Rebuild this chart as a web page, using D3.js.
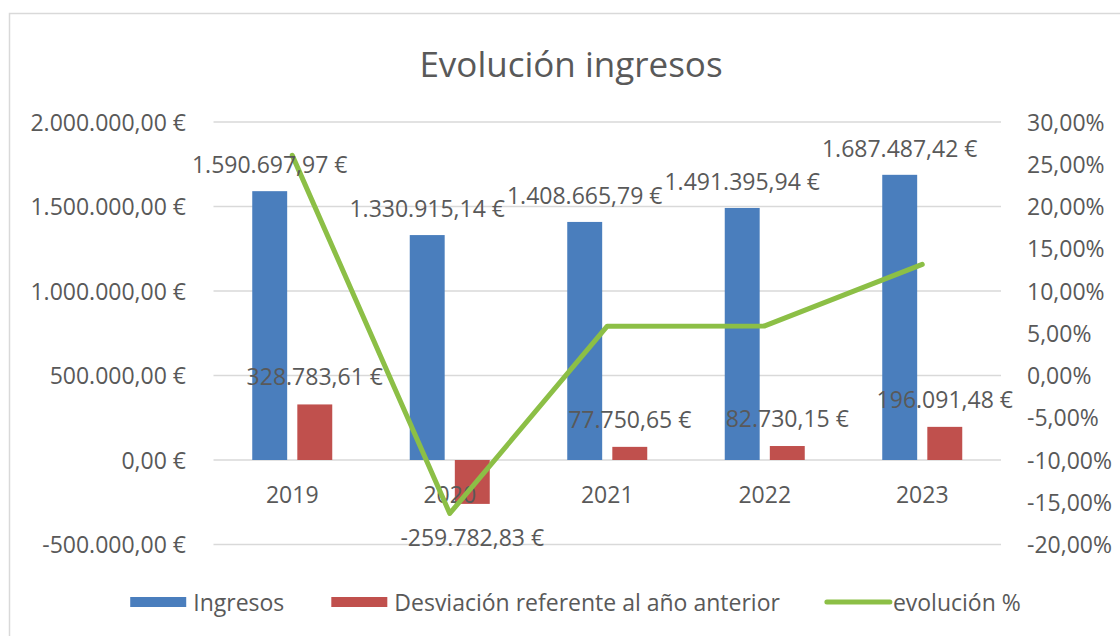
<!DOCTYPE html>
<html>
<head>
<meta charset="utf-8">
<script src="https://cdn.jsdelivr.net/npm/d3@7"></script>
<style>
  html, body { margin: 0; padding: 0; background: #ffffff; }
  svg { display: block; }
  text { font-family: "Open Sans", "Noto Sans", sans-serif; fill: #595959; }
</style>
</head>
<body>
<svg id="chart" width="1120" height="636"></svg>
<script>
// ---- data ----
const years = ["2019", "2020", "2021", "2022", "2023"];
const ingresos = [1590697.97, 1330915.14, 1408665.79, 1491395.94, 1687487.42];
const desviacion = [328783.61, -259782.83, 77750.65, 82730.15, 196091.48];
const evolucion = [0.2605, -0.1633, 0.0584, 0.0587, 0.1315];
const leftTicks = [-500000, 0, 500000, 1000000, 1500000, 2000000];
const rightTicks = [-0.20, -0.15, -0.10, -0.05, 0, 0.05, 0.10, 0.15, 0.20, 0.25, 0.30];
const seriesNames = ["Ingresos", "Desviación referente al año anterior", "evolución %"];
const title = "Evolución ingresos";

// ---- style ----
const colBlue = "#4a7ebd";
const colRed = "#c0504d";
const colGreen = "#8cbf46";
const gridCol = "#d9d9d9";
const fs = 23;

const svg = d3.select("#chart");
const W = 1120, H = 636;
const plot = { left: 213.5, right: 1001, top: 122, bottom: 544.5 };

svg.append("rect").attr("width", W).attr("height", H).attr("fill", "#fff");
// chart area frame (cropped at right and bottom like the reference)
svg.append("rect").attr("x", 9.5).attr("y", 13.5).attr("width", 1200).attr("height", 700)
  .attr("fill", "#fff").attr("stroke", gridCol).attr("stroke-width", 1.5);

// scales
const x = d3.scaleBand().domain(years).range([plot.left, plot.right]).padding(0);
const xSub = d3.scaleBand().domain(["ing", "dev"])
  .range([x.bandwidth() / 2 - 40, x.bandwidth() / 2 + 40]).paddingInner(0.225);
const yL = d3.scaleLinear().domain([-500000, 2000000]).range([plot.bottom, plot.top]);
const yR = d3.scaleLinear().domain([-0.20, 0.30]).range([plot.bottom, plot.top]);

const fmtEur = v => {
  const s = d3.format(",.2f")(Math.abs(v)).replace(/,/g, "#").replace(".", ",").replace(/#/g, ".");
  return (v < 0 ? "-" : "") + s + " €";
};
const fmtPct = v => {
  const s = d3.format(".2f")(Math.abs(v * 100)).replace(".", ",");
  return (v < 0 ? "-" : "") + s + "%";
};

// title
svg.append("text").attr("x", 571).attr("y", 63).attr("text-anchor", "middle")
  .attr("dominant-baseline", "central").style("font-size", "35px").text(title);

// gridlines
svg.append("g").selectAll("line").data(leftTicks).join("line")
  .attr("x1", plot.left).attr("x2", plot.right)
  .attr("y1", d => yL(d)).attr("y2", d => yL(d))
  .attr("stroke", gridCol).attr("stroke-width", 1.5);

// left axis
const axL = d3.axisLeft(yL).tickValues(leftTicks).tickFormat(fmtEur).tickSize(0).tickPadding(0);
const gL = svg.append("g").attr("transform", "translate(186,0)").call(axL);
gL.select(".domain").remove();
gL.selectAll("text").style("font-size", fs + "px").attr("fill", "#595959")
  .attr("font-family", null).attr("dy", "0.35em");

// right axis
const axR = d3.axisRight(yR).tickValues(rightTicks).tickFormat(fmtPct).tickSize(0).tickPadding(0);
const gR = svg.append("g").attr("transform", "translate(1027,0)").call(axR);
gR.select(".domain").remove();
gR.selectAll("text").style("font-size", fs + "px").attr("fill", "#595959")
  .attr("font-family", null).attr("dy", "0.35em");

// bars
const gBars = svg.append("g");
gBars.selectAll("rect.ing").data(years).join("rect").attr("class", "ing")
  .attr("x", (d) => x(d) + xSub("ing"))
  .attr("width", xSub.bandwidth())
  .attr("y", (d, i) => yL(ingresos[i]))
  .attr("height", (d, i) => yL(0) - yL(ingresos[i]))
  .attr("fill", colBlue);
gBars.selectAll("rect.dev").data(years).join("rect").attr("class", "dev")
  .attr("x", (d) => x(d) + xSub("dev"))
  .attr("width", xSub.bandwidth())
  .attr("y", (d, i) => Math.min(yL(desviacion[i]), yL(0)))
  .attr("height", (d, i) => Math.abs(yL(0) - yL(desviacion[i])))
  .attr("fill", colRed);

// x category labels (drawn over the bars, under the line)
const axX = d3.axisBottom(x).tickSize(0).tickPadding(0);
const gX = svg.append("g").attr("transform", `translate(0,${yL(0) + 35})`).call(axX);
gX.select(".domain").remove();
gX.selectAll("text").style("font-size", fs + "px").attr("fill", "#595959")
  .attr("font-family", null).attr("dy", "0.35em");

// line
const line = d3.line().x((d, i) => x(years[i]) + x.bandwidth() / 2).y(d => yR(d));
svg.append("path").datum(evolucion).attr("d", line)
  .attr("fill", "none").attr("stroke", colGreen).attr("stroke-width", 5)
  .attr("stroke-linejoin", "round").attr("stroke-linecap", "round");

// data labels
const gLab = svg.append("g").style("font-size", fs + "px");
gLab.selectAll("text.ing").data(years).join("text").attr("class", "ing")
  .attr("x", d => x(d) + xSub("ing") + xSub.bandwidth() / 2)
  .attr("y", (d, i) => yL(ingresos[i]) - 27)
  .attr("text-anchor", "middle").attr("dominant-baseline", "central")
  .text((d, i) => fmtEur(ingresos[i]));
gLab.selectAll("text.dev").data(years).join("text").attr("class", "dev")
  .attr("x", d => x(d) + xSub("dev") + xSub.bandwidth() / 2)
  .attr("y", (d, i) => desviacion[i] >= 0 ? yL(desviacion[i]) - 28 : yL(desviacion[i]) + 33)
  .attr("text-anchor", "middle").attr("dominant-baseline", "central")
  .text((d, i) => fmtEur(desviacion[i]));

// legend
const legY = 602;
const gLeg = svg.append("g");
let cx = 0;
seriesNames.forEach((name, i) => {
  const g = gLeg.append("g");
  const sw = i === 2 ? 63 : 56;
  if (i < 2) {
    g.append("rect").attr("x", cx).attr("y", legY - 5).attr("width", sw).attr("height", 10)
      .attr("fill", i === 0 ? colBlue : colRed);
  } else {
    g.append("line").attr("x1", cx).attr("x2", cx + sw).attr("y1", legY).attr("y2", legY)
      .attr("stroke", colGreen).attr("stroke-width", 5).attr("stroke-linecap", "round");
  }
  const t = g.append("text").attr("x", cx + sw + (i === 2 ? 3 : 7)).attr("y", legY)
    .attr("dominant-baseline", "central").style("font-size", fs + "px").text(name);
  cx = cx + sw + (i === 2 ? 3 : 7) + t.node().getComputedTextLength() + 47;
});
const legW = cx - 47;
gLeg.attr("transform", `translate(${575.5 - legW / 2},0)`);
</script>
</body>
</html>
